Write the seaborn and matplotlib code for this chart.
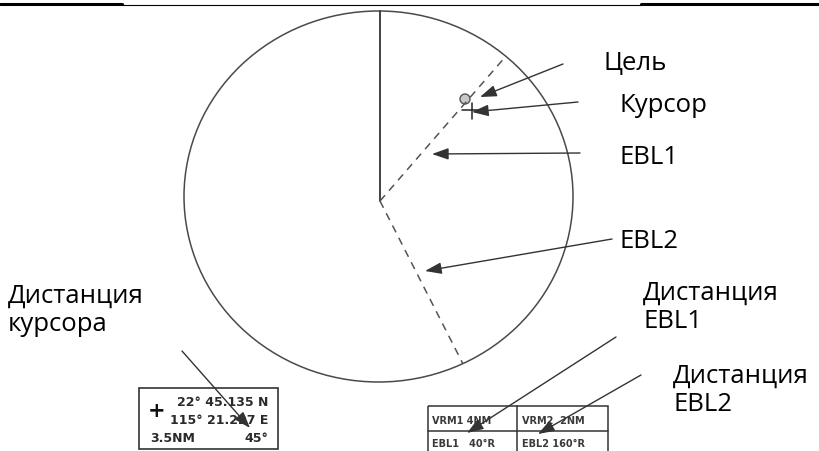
import numpy as np
import matplotlib
matplotlib.use("Agg")
import matplotlib.pyplot as plt
from matplotlib.patches import Ellipse, Circle, Rectangle
import seaborn as sns

# radar scope (pixel units of the 819x452 picture, y grows downwards)
scope_center = (378.5, 197.5)
scope_size = (389, 371)
origin = (380, 202)
heading_bearing = 0
ebl_bearings = [41, 153]          # EBL1, EBL2 as drawn

target_pos = (465, 100)
cursor_pos = (472, 111)

# callout labels: text, text position (first baseline), arrow start, arrow head
callout_labels = ["Цель", "Курсор", "EBL1", "EBL2",
                  "Дистанция\nкурсора", "Дистанция\nEBL1", "Дистанция\nEBL2"]
callout_text_xy = [(604, 70), (620, 112), (620, 164), (620, 248),
                   (8, 303), (643, 300), (673, 383)]
callout_tail = [(563, 65), (578, 103), (580, 154), (612, 240),
                (182, 352), (616, 338), (641, 376)]
callout_head = [(480, 98), (472, 113), (432, 155), (425, 272),
                (250, 429), (467, 434), (538, 435)]

# readout boxes
cursor_lines = ["22° 45.135 N", "115° 21.227 E"]
cursor_range = "3.5NM"
cursor_bearing = "45°"
vrm_cells = ["VRM1 4NM", "VRM2  2NM", "EBL1   40°R", "EBL2 160°R"]


def ray_end(bearing):
    """point where a ray from the origin meets the scope ellipse"""
    b = np.radians(bearing)
    dx, dy = np.sin(b), -np.cos(b)
    a, c = scope_size[0] / 2, scope_size[1] / 2
    ox, oy = origin[0] - scope_center[0], origin[1] - scope_center[1]
    qa = (dx / a) ** 2 + (dy / c) ** 2
    qb = 2 * (ox * dx / a ** 2 + oy * dy / c ** 2)
    qc = (ox / a) ** 2 + (oy / c) ** 2 - 1
    t = (-qb + np.sqrt(qb ** 2 - 4 * qa * qc)) / (2 * qa)
    return origin[0] + t * dx, origin[1] + t * dy


sns.set_style("white")
plt.rcParams['font.family'] = ['Open Sans', 'DejaVu Sans']

fig = plt.figure(figsize=(8.19, 4.52), dpi=100)
ax = fig.add_axes([0, 0, 1, 1])
ax.set_xlim(0, 819)
ax.set_ylim(452, 0)
ax.axis('off')

# top rule
ax.plot([0, 122], [5, 5], color='black', lw=2.2)
ax.plot([122, 641], [6, 6], color='black', lw=0.8)
ax.plot([641, 819], [5, 5], color='black', lw=2.2)

# scope
ax.add_patch(Ellipse(scope_center, scope_size[0], scope_size[1], fill=False,
                     edgecolor='#4a4a4a', lw=1.1))
hx, hy = ray_end(heading_bearing)
ax.plot([origin[0], hx], [origin[1], hy], color='#333333', lw=1.3)
for b in ebl_bearings:
    ex, ey = ray_end(b)
    ax.plot([origin[0], ex], [origin[1], ey], color='#555555', lw=1.1,
            dashes=(5, 4))

# target and cursor
ax.add_patch(Circle(target_pos, 5, facecolor='#c8c8c8', edgecolor='#555555',
                    lw=1))
ax.plot([cursor_pos[0] - 10, cursor_pos[0] + 10], [cursor_pos[1]] * 2,
        color='#222222', lw=1.1)
ax.plot([cursor_pos[0]] * 2, [cursor_pos[1] - 7, cursor_pos[1] + 9],
        color='#222222', lw=1.1)

# readout boxes
ax.add_patch(Rectangle((139, 389), 139, 61, fill=False, edgecolor='#333333',
                       lw=1.2))
mono = dict(family='DejaVu Sans', fontsize=9, fontweight='bold',
            color='#2a2a2a', va='center')
ax.text(157, 411, '+', ha='center', fontsize=15, fontweight='bold',
        color='#111111', va='center', family='DejaVu Sans')
ax.text(268, 403, cursor_lines[0], ha='right', **mono)
ax.text(268, 421, cursor_lines[1], ha='right', **mono)
ax.text(150, 439, cursor_range, ha='left', **mono)
ax.text(268, 439, cursor_bearing, ha='right', **mono)

ax.add_patch(Rectangle((428, 407), 180, 50, fill=False, edgecolor='#333333',
                       lw=1.1))
ax.plot([517, 517], [407, 452], color='#333333', lw=1.1)
ax.plot([428, 608], [432, 432], color='#333333', lw=1.1)
small = dict(family='DejaVu Sans', fontsize=7, fontweight='bold',
             color='#3a3a3a', va='center', ha='left')
ax.text(432, 421, vrm_cells[0], **small)
ax.text(522, 421, vrm_cells[1], **small)
ax.text(432, 444, vrm_cells[2], **small)
ax.text(522, 444, vrm_cells[3], **small)

# callouts
line_step = 28
for lab, txy, tail, head in zip(callout_labels, callout_text_xy,
                                callout_tail, callout_head):
    for i, part in enumerate(lab.split('\n')):
        ax.text(txy[0], txy[1] + i * line_step, part, fontsize=18.5,
                color='black', ha='left', va='baseline')
    ax.annotate('', xy=head, xytext=tail,
                arrowprops=dict(arrowstyle='-|>,head_length=1.0,head_width=0.35',
                                mutation_scale=10, color='#333333', lw=1.0,
                                shrinkA=0, shrinkB=0))

fig.savefig('out.png', dpi=100)
